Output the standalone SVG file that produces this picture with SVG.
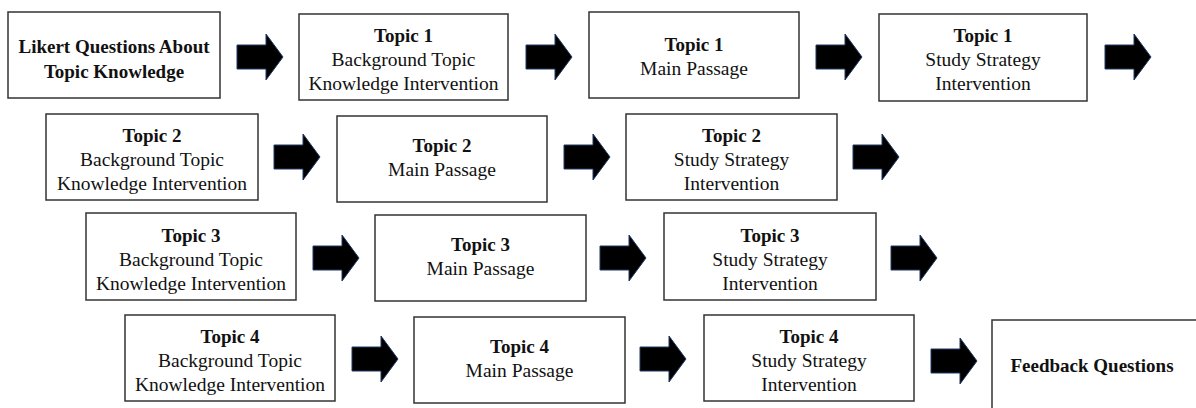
<svg xmlns="http://www.w3.org/2000/svg" width="1196" height="408" viewBox="0 0 1196 408">
<style>
.box{fill:#fff;stroke:#333;stroke-width:1.5}
text{font-family:"Liberation Serif","DejaVu Serif",serif;font-size:19.5px;fill:#111;text-anchor:middle}
.b{font-weight:bold;font-size:19px}
.arrow{fill:#000;stroke:#1f3864;stroke-width:1}
</style>
<defs>
<path id="arr" d="M0,-12 H29 V-23 L46,0 L29,23 V12 H0 Z"/>
</defs>
<rect width="1196" height="408" fill="#fff"/>
<g id="connectors" class="arrow">
<use href="#arr" x="237" y="57"/>
<use href="#arr" x="526" y="57"/>
<use href="#arr" x="816" y="57"/>
<use href="#arr" x="1105" y="57"/>
<use href="#arr" x="274" y="157"/>
<use href="#arr" x="564" y="157"/>
<use href="#arr" x="853" y="157"/>
<use href="#arr" x="313" y="258"/>
<use href="#arr" x="600" y="258"/>
<use href="#arr" x="891" y="258"/>
<use href="#arr" x="352" y="359"/>
<use href="#arr" x="640" y="359"/>
<use href="#arr" x="931" y="361"/>
</g>
<g id="likert"><rect class="box" x="8" y="12" width="212" height="86"/><text class="b" x="114" y="53">Likert Questions About</text><text class="b" x="114" y="78">Topic Knowledge</text></g>
<g id="t1bg"><rect class="box" x="299" y="14" width="209" height="86"/><text class="b" x="403.5" y="42">Topic 1</text><text x="403.5" y="66">Background Topic</text><text x="403.5" y="90">Knowledge Intervention</text></g>
<g id="t1mp"><rect class="box" x="589" y="12" width="210" height="86"/><text class="b" x="694" y="51">Topic 1</text><text x="694" y="75">Main Passage</text></g>
<g id="t1ss"><rect class="box" x="879" y="14" width="208" height="87"/><text class="b" x="983" y="42">Topic 1</text><text x="983" y="66">Study Strategy</text><text x="983" y="90">Intervention</text></g>
<g id="t2bg"><rect class="box" x="46" y="114" width="212" height="86"/><text class="b" x="152" y="142">Topic 2</text><text x="152" y="166">Background Topic</text><text x="152" y="190">Knowledge Intervention</text></g>
<g id="t2mp"><rect class="box" x="337" y="116" width="210" height="86"/><text class="b" x="442" y="152">Topic 2</text><text x="442" y="176">Main Passage</text></g>
<g id="t2ss"><rect class="box" x="626" y="114" width="211" height="86"/><text class="b" x="731.5" y="142">Topic 2</text><text x="731.5" y="166">Study Strategy</text><text x="731.5" y="190">Intervention</text></g>
<g id="t3bg"><rect class="box" x="86" y="213" width="210" height="87"/><text class="b" x="191" y="242">Topic 3</text><text x="191" y="266">Background Topic</text><text x="191" y="290">Knowledge Intervention</text></g>
<g id="t3mp"><rect class="box" x="375" y="215" width="211" height="86"/><text class="b" x="480.5" y="251">Topic 3</text><text x="480.5" y="275">Main Passage</text></g>
<g id="t3ss"><rect class="box" x="664" y="213" width="212" height="87"/><text class="b" x="770" y="242">Topic 3</text><text x="770" y="266">Study Strategy</text><text x="770" y="290">Intervention</text></g>
<g id="t4bg"><rect class="box" x="125" y="315" width="210" height="86"/><text class="b" x="230" y="343">Topic 4</text><text x="230" y="367">Background Topic</text><text x="230" y="391">Knowledge Intervention</text></g>
<g id="t4mp"><rect class="box" x="414" y="317" width="211" height="86"/><text class="b" x="519.5" y="353">Topic 4</text><text x="519.5" y="377">Main Passage</text></g>
<g id="t4ss"><rect class="box" x="704" y="315" width="210" height="86"/><text class="b" x="809" y="343">Topic 4</text><text x="809" y="367">Study Strategy</text><text x="809" y="391">Intervention</text></g>
<g id="feedback"><rect class="box" x="992" y="320" width="210" height="92"/><text class="b" x="1092" y="372">Feedback Questions</text></g>
</svg>
